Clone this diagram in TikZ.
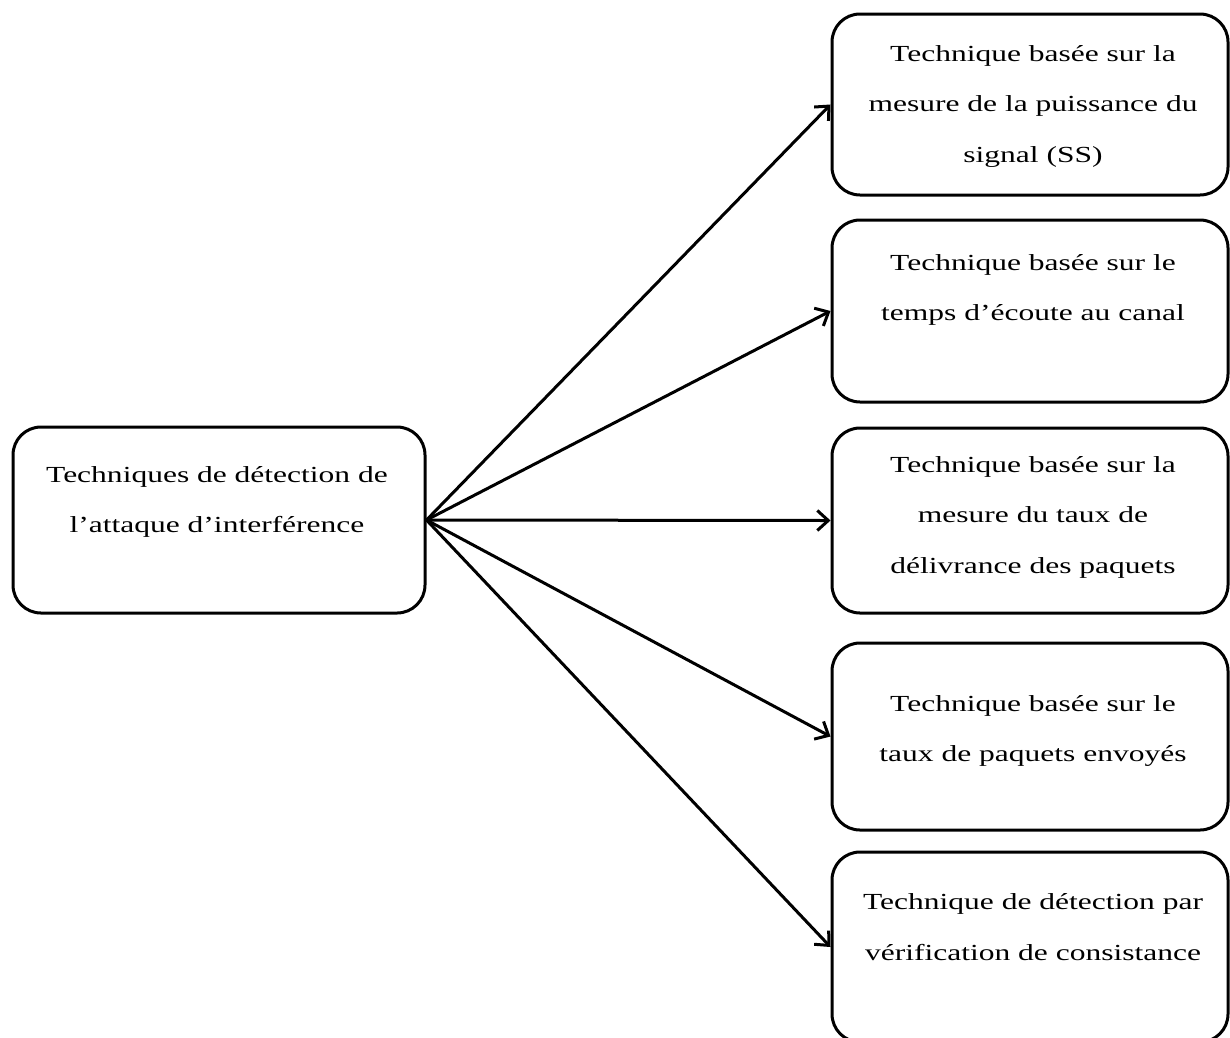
\documentclass[tikz,border=0pt]{standalone}
\usepackage{fontspec}
\setmainfont[FakeStretch=1.37]{Liberation Serif}
\usetikzlibrary{arrows.meta}

\tikzset{
  box/.style={draw=black, line width=3pt, rounded corners=28pt, fill=white, inner sep=0pt},
  label text/.style={align=center, inner sep=0pt, text=black,
    font=\fontsize{23}{50.5}\selectfont},
  link/.style={line width=3pt, draw=black,
    -{Straight Barb[length=11pt, width=20pt, line width=3pt]}}
}

\begin{document}
\begin{tikzpicture}[x=1pt, y=-1pt]
  \useasboundingbox (0,0) rectangle (1230,1037);

  % source box
  \node[box, minimum width=412pt, minimum height=186pt] (src) at (219,520) {};
  \node[label text] (srct) at (217,502)
    {Techniques de détection de\\ l’attaque d’interférence};

  % technique boxes
  \node[box, minimum width=396pt, minimum height=181pt] (b1) at (1030,104.5) {};
  \node[box, minimum width=396pt, minimum height=182pt] (b2) at (1030,311) {};
  \node[box, minimum width=396pt, minimum height=185pt] (b3) at (1030,520.5) {};
  \node[box, minimum width=396pt, minimum height=187pt] (b4) at (1030,736.5) {};
  \node[box, minimum width=396pt, minimum height=190pt] (b5) at (1030,947) {};

  \node[label text] (t1) at (1033,106)
    {Technique basée sur la\\ mesure de la puissance du\\ signal (SS)};
  \node[label text] (t2) at (1033,290)
    {Technique basée sur le\\ temps d’écoute au canal};
  \node[label text] (t3) at (1033,517)
    {Technique basée sur la\\ mesure du taux de\\ délivrance des paquets};
  \node[label text] (t4) at (1033,731)
    {Technique basée sur le\\ taux de paquets envoyés};
  \node[label text] (t5) at (1033,927)
    {Technique de détection par\\ vérification de consistance};

  % connectors
  \foreach \b in {b1,b2,b3,b4,b5}
    \draw[link] (src.east) -- (\b.west);
\end{tikzpicture}
\end{document}
